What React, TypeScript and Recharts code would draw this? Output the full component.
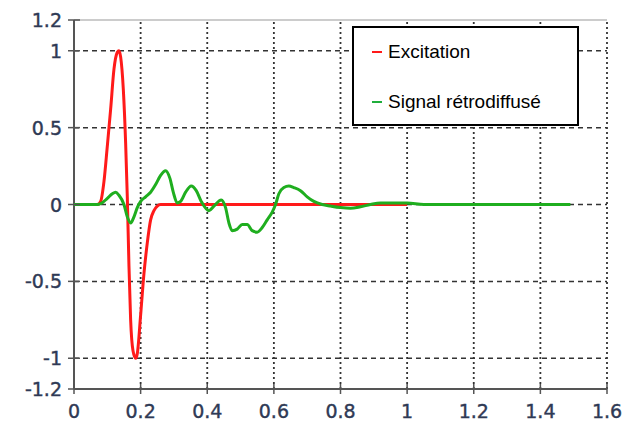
import { LineChart, Line, XAxis, YAxis, ReferenceLine } from "recharts";

// Excitation pulse (red)
const excitationT = [
  0, 0.07, 0.08, 0.09, 0.1, 0.11, 0.12, 0.13, 0.135, 0.14, 0.148, 0.155, 0.16, 0.165, 0.17, 0.177, 0.185,
  0.19, 0.2, 0.21, 0.22, 0.23, 0.24, 0.25, 0.26, 1.0,
];
const excitationV = [
  0, 0, 0.02, 0.15, 0.38, 0.62, 0.88, 0.99, 1.0, 0.96, 0.75, 0.4, 0.05, -0.4, -0.75, -0.95, -1.0,
  -0.97, -0.72, -0.45, -0.25, -0.1, -0.04, -0.01, 0, 0,
];

// Backscattered signal (green)
const signalT = [
  0, 0.07, 0.08, 0.1, 0.115, 0.125, 0.135, 0.15, 0.16, 0.17, 0.18, 0.19, 0.2, 0.215, 0.23, 0.245, 0.26,
  0.275, 0.288, 0.298, 0.31, 0.32, 0.335, 0.352, 0.367, 0.382, 0.405, 0.42, 0.442, 0.455, 0.465, 0.475,
  0.49, 0.505, 0.52, 0.535, 0.55, 0.565, 0.58, 0.595, 0.605, 0.615, 0.63, 0.645, 0.66, 0.68, 0.7, 0.72,
  0.745, 0.77, 0.8, 0.83, 0.86, 0.89, 0.92, 1.0, 1.05, 1.49,
];
const signalV = [
  0, 0, 0.005, 0.04, 0.07, 0.08, 0.06, 0.0, -0.08, -0.12, -0.08, -0.02, 0.02, 0.05, 0.08, 0.13, 0.19,
  0.22, 0.17, 0.08, 0.01, 0.02, 0.08, 0.12, 0.09, 0.02, -0.04, -0.01, 0.03, -0.02, -0.12, -0.17,
  -0.16, -0.13, -0.13, -0.17, -0.18, -0.15, -0.1, -0.05, 0.0, 0.07, 0.11, 0.12, 0.11, 0.09, 0.05, 0.02,
  0.0, -0.01, -0.02, -0.025, -0.015, 0.0, 0.01, 0.01, 0.0, 0,
];

const xTicks = [0, 0.2, 0.4, 0.6, 0.8, 1, 1.2, 1.4, 1.6];
const yTicks = [-1.2, -1, -0.5, 0, 0.5, 1, 1.2];
const hGrid = [-1, -0.5, 0, 0.5, 1];
const vGrid = [0.2, 0.4, 0.6, 0.8, 1, 1.2, 1.4, 1.6];

const legendItems = [
  { label: "Excitation", color: "#ff1a1a" },
  { label: "Signal rétrodiffusé", color: "#1fae3c" },
];

const excitation = excitationT.map((x, i) => ({ x, v: excitationV[i] }));
const signal = signalT.map((x, i) => ({ x, v: signalV[i] }));

const labelColor = "#2f3a55";
const axisColor = "#555";
const font = "'DejaVu Sans', Verdana, sans-serif";

const fmt = (v: number) => String(Math.round(v * 10) / 10);

function XTick({ x, y, payload }: any) {
  return (
    <g>
      <line x1={x} x2={x} y1={y - 5} y2={y + 5} stroke={axisColor} strokeWidth={1.5} />
      <text
        x={x}
        y={y + 29}
        textAnchor="middle"
        fill={labelColor}
        stroke={labelColor}
        strokeWidth={0.4}
        fontSize={19}
        fontFamily={font}
      >
        {fmt(payload.value)}
      </text>
    </g>
  );
}

function YTick({ x, y, payload }: any) {
  return (
    <g>
      <line x1={x - 6} x2={x + 6} y1={y} y2={y} stroke={axisColor} strokeWidth={1.5} />
      <text
        x={x - 12}
        y={y + 7}
        textAnchor="end"
        fill={labelColor}
        stroke={labelColor}
        strokeWidth={0.4}
        fontSize={19}
        fontFamily={font}
      >
        {fmt(payload.value)}
      </text>
    </g>
  );
}

function LegendBox() {
  return (
    <div
      style={{
        position: "absolute",
        left: 352,
        top: 26,
        width: 223,
        height: 96,
        border: "2px solid #000",
        background: "#fff",
        fontFamily: "'Liberation Sans', Arial, sans-serif",
        fontSize: 19,
        color: "#000",
      }}
    >
      {legendItems.map((it, i) => (
        <div
          key={it.label}
          style={{ position: "absolute", left: 18, top: 13 + i * 50, display: "flex", alignItems: "center" }}
        >
          <span style={{ display: "inline-block", width: 10, height: 2, background: it.color, marginRight: 6 }} />
          <span>{it.label}</span>
        </div>
      ))}
    </div>
  );
}

export default function App() {
  return (
    <div style={{ position: "fixed", left: 0, top: 0, width: 630, height: 430, background: "#fff" }}>
      <LineChart width={630} height={430} margin={{ top: 20, right: 23, left: 0, bottom: 0 }}>
        <XAxis
          type="number"
          dataKey="x"
          domain={[0, 1.6]}
          ticks={xTicks}
          height={41}
          tickSize={0}
          tickMargin={0}
          tick={<XTick />}
          axisLine={false}
          interval={0}
          allowDataOverflow
        />
        <YAxis
          type="number"
          domain={[-1.2, 1.2]}
          ticks={yTicks}
          width={74}
          tickSize={0}
          tickMargin={0}
          tick={<YTick />}
          axisLine={false}
          interval={0}
          allowDataOverflow
        />
        {hGrid.map((v) => (
          <ReferenceLine key={"h" + v} y={v} stroke="#333" strokeWidth={1.5} strokeDasharray="5 4" />
        ))}
        {vGrid.map((v) => (
          <ReferenceLine key={"v" + v} x={v} stroke="#333" strokeWidth={1.8} strokeDasharray="2 3" />
        ))}
        <ReferenceLine y={1.2} stroke="#bbb" strokeWidth={1.5} />
        <ReferenceLine x={0} stroke={axisColor} strokeWidth={2} />
        <ReferenceLine y={-1.2} stroke={axisColor} strokeWidth={2} />
        <Line
          data={excitation}
          dataKey="v"
          type="monotone"
          stroke="#ff1a1a"
          strokeWidth={3}
          dot={false}
          isAnimationActive={false}
        />
        <Line
          data={signal}
          dataKey="v"
          type="monotone"
          stroke="#1fae1f"
          strokeWidth={3}
          dot={false}
          isAnimationActive={false}
        />
      </LineChart>
      <LegendBox />
    </div>
  );
}
